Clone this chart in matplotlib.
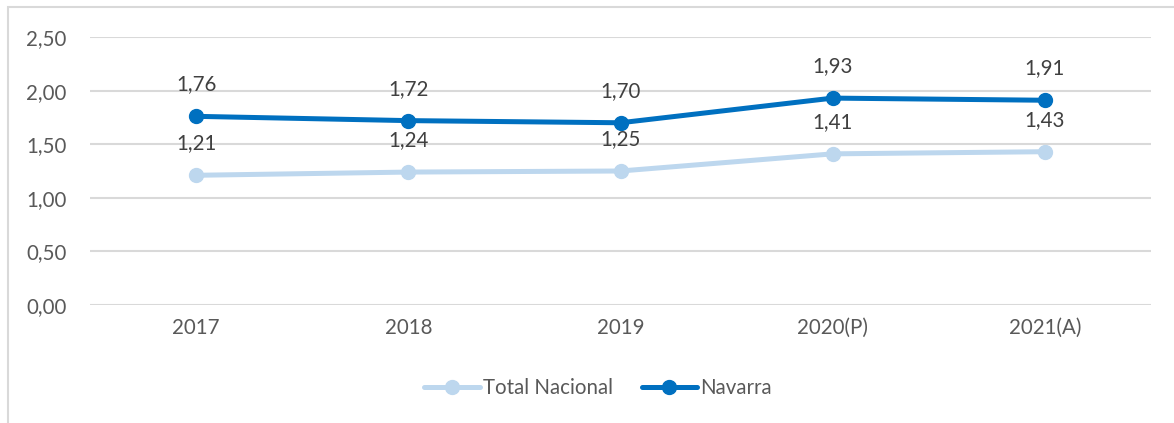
import matplotlib
matplotlib.use('Agg')
import matplotlib.pyplot as plt
from matplotlib.patches import Rectangle

# data
years = ['2017', '2018', '2019', '2020(P)', '2021(A)']
total_nacional = [1.21, 1.24, 1.25, 1.41, 1.43]
navarra = [1.76, 1.72, 1.70, 1.93, 1.91]
y_ticks = [0.0, 0.5, 1.0, 1.5, 2.0, 2.5]

plt.rcParams['font.family'] = ['Lato', 'DejaVu Sans']
FS = 14.8

W, H = 1174, 423
fig = plt.figure(figsize=(W / 100, H / 100), dpi=100)
fig.patch.set_facecolor('white')

# outer chart border (cut off on the right and bottom)
fig.patches.append(Rectangle((8 / W, -0.1), 1.2, 1 - 7 / H + 0.1,
                             transform=fig.transFigure, fill=False,
                             edgecolor='#d9d9d9', linewidth=1.5))

ax = fig.add_axes([90 / W, 1 - 305 / H, (1151 - 90) / W, (305 - 37) / H])
x = list(range(len(years)))

light = '#bdd7ee'
dark = '#0070c0'
ax.plot(x, total_nacional, color=light, linewidth=3.6, marker='o',
        markersize=10, label='Total Nacional', solid_capstyle='round')
ax.plot(x, navarra, color=dark, linewidth=3.6, marker='o',
        markersize=10, label='Navarra', solid_capstyle='round')

for xi, v in zip(x, total_nacional):
    ax.annotate(f'{v:.2f}'.replace('.', ','), (xi, v), xytext=(0, 23),
                textcoords='offset points', ha='center', va='center',
                fontsize=FS, color='#404040')
for xi, v in zip(x, navarra):
    ax.annotate(f'{v:.2f}'.replace('.', ','), (xi, v), xytext=(0, 23),
                textcoords='offset points', ha='center', va='center',
                fontsize=FS, color='#404040')

ax.set_xlim(-0.5, len(years) - 0.5)
ax.set_ylim(0, 2.5)
ax.set_yticks(y_ticks)
ax.set_yticklabels([f'{t:.2f}'.replace('.', ',') for t in y_ticks])
ax.set_xticks(x)
ax.set_xticklabels(years)
ax.tick_params(axis='both', length=0, labelsize=FS, colors='#595959')
ax.tick_params(axis='y', pad=17)
ax.tick_params(axis='x', pad=9)
ax.grid(axis='y', color='#d9d9d9', linewidth=1.5)
ax.set_axisbelow(True)
for s in ax.spines.values():
    s.set_visible(False)

leg = fig.legend(loc='center', bbox_to_anchor=(598 / W, 1 - 388 / H), ncol=2,
                 frameon=False, fontsize=FS, handlelength=2.7,
                 handletextpad=0.15, columnspacing=1.4)
for t in leg.get_texts():
    t.set_color('#595959')

fig.savefig('out.png', dpi=100)
